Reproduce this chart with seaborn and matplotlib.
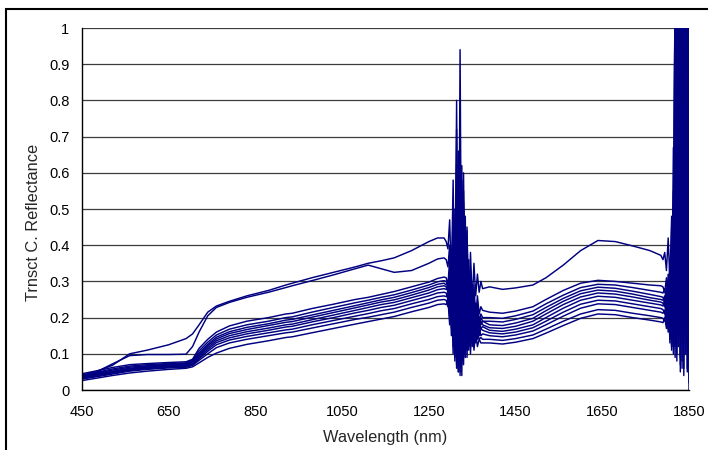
import matplotlib
matplotlib.use("Agg")
import matplotlib.pyplot as plt
import matplotlib.patches as patches
import numpy as np
import pandas as pd
import seaborn as sns

# Wavelength grid (nm): visible/NIR, first water band, SWIR plateau, second water band
wl_vis = [450, 480, 520, 560, 600, 650, 690, 705, 720, 740, 760, 790, 830, 880,
          920, 935, 980, 1030, 1080, 1110, 1140, 1170, 1210, 1250, 1270, 1285]
wl_water1 = list(range(1290, 1375, 4))
wl_swir = [1390, 1420, 1450, 1490, 1520, 1560, 1600, 1640, 1680, 1720, 1760, 1785]
wl_water2 = list(range(1790, 1851, 4))
wavelength = wl_vis + wl_water1 + wl_swir + wl_water2

# Reflectance spectra, one list per sampling plot along the transect
plot_a = [0.040, 0.050, 0.068, 0.100, 0.110, 0.125, 0.142, 0.155, 0.180, 0.215, 0.232, 0.245, 0.260, 0.275,
          0.290, 0.295, 0.310, 0.325, 0.340, 0.350, 0.357, 0.365, 0.385, 0.410, 0.420, 0.420,
          0.41, 0.39, 0.47, 0.30, 0.58, 0.22, 0.72, 0.15, 0.60, 0.12, 0.50, 0.18, 0.44, 0.20, 0.38, 0.24,
          0.35, 0.26, 0.32, 0.27, 0.30, 0.28,
          0.285, 0.278, 0.282, 0.290, 0.310, 0.345, 0.385, 0.413, 0.410, 0.398, 0.385, 0.372,
          0.36, 0.38, 0.33, 0.42, 0.30, 0.48, 0.25, 1.15, 0.30, 1.20, 0.15, 1.20, 0.40, 1.20, 0.10, 1.10]
plot_b = [0.038, 0.048, 0.072, 0.095, 0.098, 0.098, 0.099, 0.120, 0.160, 0.205, 0.228, 0.242, 0.256, 0.270,
          0.283, 0.288, 0.302, 0.318, 0.335, 0.345, 0.335, 0.325, 0.330, 0.350, 0.362, 0.365,
          0.36, 0.34, 0.40, 0.25, 0.50, 0.14, 0.80, 0.06, 0.65, 0.10, 0.52, 0.12, 0.42, 0.15, 0.34, 0.18,
          0.29, 0.20, 0.26, 0.21, 0.23, 0.22,
          0.215, 0.212, 0.218, 0.230, 0.250, 0.275, 0.295, 0.303, 0.300, 0.295, 0.290, 0.288,
          0.285, 0.27, 0.31, 0.22, 0.36, 0.18, 0.67, 0.12, 1.20, 0.20, 1.20, 0.08, 1.20, 0.25, 1.20, 0.20]
plot_c1 = [0.045, 0.052, 0.062, 0.070, 0.073, 0.076, 0.078, 0.085, 0.115, 0.140, 0.160, 0.177, 0.190, 0.200,
           0.210, 0.212, 0.225, 0.237, 0.250, 0.256, 0.264, 0.272, 0.285, 0.298, 0.308, 0.312,
           0.31, 0.29, 0.36, 0.20, 0.45, 0.10, 0.62, 0.05, 0.94, 0.08, 0.55, 0.10, 0.38, 0.13, 0.30, 0.16,
           0.26, 0.18, 0.24, 0.19, 0.21, 0.20,
           0.200, 0.198, 0.205, 0.218, 0.238, 0.262, 0.283, 0.292, 0.290, 0.283, 0.275, 0.270,
           0.268, 0.28, 0.24, 0.32, 0.18, 0.45, 0.12, 0.90, 0.20, 1.20, 0.10, 1.20, 0.30, 1.20, 0.05, 0.80]
plot_c2 = [0.042, 0.048, 0.058, 0.066, 0.070, 0.073, 0.075, 0.082, 0.108, 0.132, 0.152, 0.168, 0.180, 0.190,
           0.200, 0.202, 0.215, 0.228, 0.241, 0.248, 0.256, 0.263, 0.276, 0.290, 0.299, 0.302,
           0.30, 0.28, 0.33, 0.22, 0.40, 0.12, 0.55, 0.08, 0.73, 0.04, 0.60, 0.09, 0.45, 0.12, 0.33, 0.14,
           0.27, 0.16, 0.22, 0.18, 0.20, 0.19,
           0.190, 0.188, 0.195, 0.208, 0.228, 0.253, 0.274, 0.284, 0.281, 0.273, 0.264, 0.258,
           0.256, 0.24, 0.28, 0.20, 0.33, 0.15, 0.55, 0.30, 1.20, 0.12, 1.20, 0.35, 1.20, 0.10, 1.20, 0.02]
plot_c3 = [0.040, 0.046, 0.055, 0.063, 0.067, 0.071, 0.073, 0.079, 0.102, 0.126, 0.146, 0.161, 0.173, 0.183,
           0.193, 0.195, 0.207, 0.220, 0.233, 0.241, 0.249, 0.256, 0.269, 0.283, 0.292, 0.295,
           0.29, 0.30, 0.24, 0.38, 0.15, 0.50, 0.09, 0.66, 0.12, 0.58, 0.10, 0.48, 0.13, 0.36, 0.15, 0.28,
           0.16, 0.24, 0.17, 0.20, 0.18, 0.19,
           0.180, 0.178, 0.185, 0.198, 0.219, 0.245, 0.266, 0.276, 0.273, 0.265, 0.255, 0.250,
           0.248, 0.26, 0.21, 0.30, 0.16, 0.40, 0.20, 1.20, 0.08, 1.20, 0.25, 1.20, 0.06, 1.20, 0.30, 1.20]
plot_c4 = [0.038, 0.044, 0.052, 0.060, 0.065, 0.069, 0.071, 0.077, 0.098, 0.122, 0.141, 0.156, 0.167, 0.178,
           0.187, 0.189, 0.201, 0.214, 0.227, 0.235, 0.243, 0.249, 0.262, 0.276, 0.285, 0.288,
           0.285, 0.27, 0.32, 0.18, 0.44, 0.11, 0.60, 0.07, 0.70, 0.10, 0.50, 0.12, 0.40, 0.14, 0.30, 0.15,
           0.25, 0.16, 0.21, 0.17, 0.19, 0.18,
           0.172, 0.170, 0.176, 0.190, 0.210, 0.236, 0.257, 0.268, 0.265, 0.257, 0.248, 0.243,
           0.240, 0.23, 0.27, 0.19, 0.30, 0.14, 0.38, 0.60, 0.15, 1.20, 0.05, 1.20, 0.20, 1.20, 0.12, 0.90]
plot_c5 = [0.036, 0.042, 0.050, 0.058, 0.063, 0.067, 0.069, 0.075, 0.094, 0.117, 0.136, 0.150, 0.161, 0.171,
           0.180, 0.182, 0.194, 0.207, 0.220, 0.228, 0.236, 0.242, 0.255, 0.268, 0.277, 0.280,
           0.278, 0.29, 0.22, 0.35, 0.14, 0.46, 0.10, 0.55, 0.08, 0.62, 0.11, 0.45, 0.12, 0.33, 0.14, 0.26,
           0.15, 0.22, 0.16, 0.19, 0.17, 0.175,
           0.165, 0.162, 0.168, 0.180, 0.200, 0.226, 0.248, 0.259, 0.256, 0.248, 0.240, 0.235,
           0.232, 0.25, 0.20, 0.28, 0.13, 0.35, 0.10, 1.20, 0.18, 1.20, 0.09, 1.20, 0.15, 1.20, 0.20, 1.20]
plot_c6 = [0.034, 0.040, 0.048, 0.056, 0.061, 0.065, 0.067, 0.072, 0.090, 0.112, 0.131, 0.144, 0.155, 0.165,
           0.174, 0.176, 0.188, 0.200, 0.213, 0.220, 0.228, 0.234, 0.247, 0.260, 0.268, 0.270,
           0.268, 0.25, 0.30, 0.17, 0.40, 0.09, 0.52, 0.06, 0.58, 0.08, 0.47, 0.10, 0.36, 0.12, 0.28, 0.13,
           0.23, 0.14, 0.19, 0.15, 0.17, 0.165,
           0.158, 0.155, 0.160, 0.172, 0.190, 0.215, 0.237, 0.248, 0.246, 0.238, 0.230, 0.225,
           0.222, 0.21, 0.25, 0.17, 0.29, 0.12, 0.30, 0.75, 0.10, 1.20, 0.22, 1.20, 0.04, 1.20, 0.18, 1.20]
plot_c7 = [0.032, 0.038, 0.046, 0.054, 0.059, 0.063, 0.065, 0.070, 0.086, 0.107, 0.125, 0.138, 0.148, 0.158,
           0.166, 0.168, 0.180, 0.192, 0.204, 0.211, 0.219, 0.225, 0.238, 0.250, 0.258, 0.260,
           0.258, 0.27, 0.20, 0.33, 0.12, 0.44, 0.07, 0.50, 0.05, 0.56, 0.09, 0.42, 0.11, 0.31, 0.12, 0.24,
           0.13, 0.20, 0.14, 0.17, 0.15, 0.155,
           0.150, 0.147, 0.152, 0.163, 0.180, 0.204, 0.226, 0.238, 0.236, 0.228, 0.220, 0.215,
           0.212, 0.22, 0.18, 0.25, 0.14, 0.28, 0.20, 1.20, 0.12, 1.20, 0.30, 1.20, 0.10, 1.20, 0.06, 1.00]
plot_c8 = [0.030, 0.036, 0.044, 0.052, 0.057, 0.061, 0.063, 0.068, 0.082, 0.100, 0.117, 0.130, 0.140, 0.150,
           0.158, 0.160, 0.171, 0.183, 0.195, 0.201, 0.208, 0.215, 0.228, 0.240, 0.248, 0.250,
           0.248, 0.23, 0.28, 0.15, 0.37, 0.08, 0.48, 0.05, 0.54, 0.07, 0.40, 0.09, 0.30, 0.11, 0.23, 0.12,
           0.19, 0.13, 0.16, 0.14, 0.145, 0.14,
           0.140, 0.137, 0.142, 0.152, 0.168, 0.190, 0.210, 0.222, 0.220, 0.212, 0.205, 0.200,
           0.198, 0.19, 0.22, 0.16, 0.24, 0.11, 0.28, 0.09, 1.20, 0.15, 1.20, 0.06, 1.20, 0.20, 1.20, 0.00]
plot_c9 = [0.026, 0.032, 0.040, 0.047, 0.052, 0.057, 0.060, 0.064, 0.075, 0.090, 0.102, 0.115, 0.126, 0.136,
           0.145, 0.147, 0.158, 0.170, 0.182, 0.189, 0.196, 0.203, 0.216, 0.228, 0.236, 0.238,
           0.236, 0.25, 0.18, 0.30, 0.10, 0.40, 0.06, 0.45, 0.04, 0.50, 0.07, 0.38, 0.09, 0.27, 0.10, 0.20,
           0.11, 0.16, 0.12, 0.14, 0.13, 0.13,
           0.130, 0.127, 0.132, 0.142, 0.157, 0.178, 0.198, 0.210, 0.208, 0.200, 0.193, 0.188,
           0.186, 0.20, 0.17, 0.22, 0.15, 0.26, 0.12, 0.50, 0.20, 1.20, 0.07, 1.20, 0.25, 1.20, 0.10, 1.20]

spectra = {"A": plot_a, "B": plot_b, "C1": plot_c1, "C2": plot_c2, "C3": plot_c3, "C4": plot_c4,
           "C5": plot_c5, "C6": plot_c6, "C7": plot_c7, "C8": plot_c8, "C9": plot_c9}

x_ticks = [450, 650, 850, 1050, 1250, 1450, 1650, 1850]
y_ticks = [0, 0.1, 0.2, 0.3, 0.4, 0.5, 0.6, 0.7, 0.8, 0.9, 1.0]
y_tick_labels = ["0", "0.1", "0.2", "0.3", "0.4", "0.5", "0.6", "0.7", "0.8", "0.9", "1"]

rows = []
for name, vals in spectra.items():
    for w, r in zip(wavelength, vals):
        rows.append({"plot": name, "wavelength": w, "reflectance": r})
df = pd.DataFrame(rows)

sns.set_style("white")
plt.rcParams["font.family"] = ["Liberation Sans", "DejaVu Sans"]

W, H = 708, 450
fig = plt.figure(figsize=(W / 100, H / 100), dpi=100)
ax = fig.add_axes([82 / W, 1 - 390 / H, 607 / W, 362 / H])

for y in y_ticks:
    ax.axhline(y, color="#3c3c3c", lw=0.9, zorder=0)

sns.lineplot(data=df, x="wavelength", y="reflectance", units="plot", estimator=None,
             sort=False, color="#000080", lw=1.05, ax=ax, legend=False)

ax.set_xlim(450, 1850)
ax.set_ylim(0, 1)
ax.set_xticks(x_ticks)
ax.set_xticklabels([str(t) for t in x_ticks])
ax.set_yticks(y_ticks)
ax.set_yticklabels(y_tick_labels)
ax.tick_params(axis="both", direction="out", length=4, width=1, color="black",
               labelsize=10.5, labelcolor="black")
ax.tick_params(axis="x", pad=7)
ax.tick_params(axis="y", pad=5)
for side in ["top", "right"]:
    ax.spines[side].set_visible(False)
for side in ["left", "bottom"]:
    ax.spines[side].set_color("black")
    ax.spines[side].set_linewidth(1.0)

ax.set_xlabel("Wavelength (nm)", fontsize=11.8, labelpad=8)
ax.set_ylabel("Trnsct C. Reflectance", fontsize=11.8, va="center")
ax.yaxis.set_label_coords((33 - 82) / 607, 0.462)

# Outer chart frame
fig.patches.append(patches.Rectangle((6 / W, -0.2), 1.2, 0.98 + 0.2, transform=fig.transFigure,
                                     fill=False, edgecolor="black", lw=1.5))

fig.savefig("out.png", dpi=100, facecolor="white")
